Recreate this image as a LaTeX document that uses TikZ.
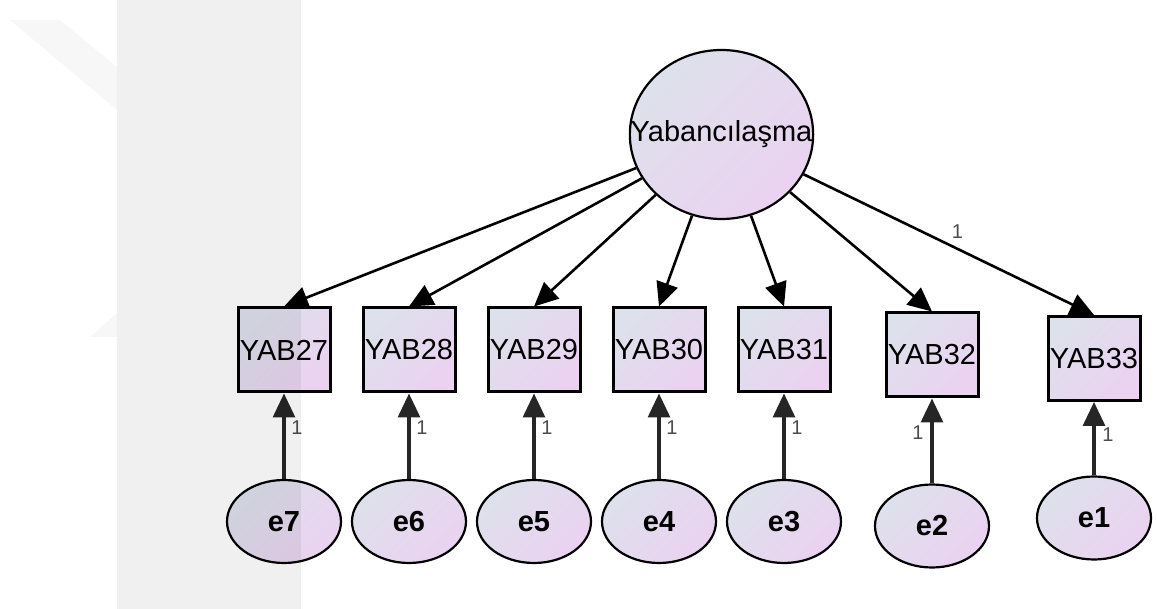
\documentclass[tikz,border=0pt]{standalone}
\usepackage{fontspec}
\setmainfont{Liberation Sans}
\usetikzlibrary{arrows.meta,shapes.geometric}
\definecolor{semblue}{HTML}{DDE1EB}
\definecolor{sempink}{HTML}{EBD2F1}

\begin{document}
\begin{tikzpicture}[
    x=0.5pt, y=-0.5pt,
    shadefill/.style={top color=semblue, bottom color=sempink, shading angle=45},
    latent/.style={ellipse, draw=black, line width=1.1pt, inner xsep=-13pt, inner ysep=0pt, shadefill,
        minimum width=91.5pt, minimum height=84.5pt, font=\fontsize{14.5}{16}\selectfont},
    observed/.style={rectangle, draw=black, line width=1.5pt, inner sep=0pt, shadefill,
        minimum width=46pt, minimum height=42pt, font=\fontsize{14.5}{16}\selectfont},
    errvar/.style={ellipse, draw=black, line width=1.1pt, inner sep=0pt, shadefill,
        minimum width=57pt, minimum height=41.5pt, font=\bfseries\fontsize{14.5}{16}\selectfont},
    loading/.style={-{Triangle[length=12pt,width=11pt]}, line width=1.3pt, draw=black},
    errpath/.style={loading, line width=1.6pt, draw=black!85},
    one/.style={font=\fontsize{10}{11}\selectfont, text=black!70, inner sep=0pt}
]
\useasboundingbox (0,0) rectangle (1158,609);

% latent factor
\node[latent] (yab) at (721.5,134.5) {Yabancılaşma};

% indicators
\node[observed] (yab27) at (284,350) {YAB27};
\node[observed] (yab28) at (409,350) {YAB28};
\node[observed] (yab29) at (534,350) {YAB29};
\node[observed] (yab30) at (659,350) {YAB30};
\node[observed] (yab31) at (784,350) {YAB31};
\node[observed] (yab32) at (932,355) {YAB32};
\node[observed] (yab33) at (1094,358.5) {YAB33};

% error terms
\node[errvar] (e7) at (284,521.5) {e7};
\node[errvar] (e6) at (409,521.5) {e6};
\node[errvar] (e5) at (534,521.5) {e5};
\node[errvar] (e4) at (659,521.5) {e4};
\node[errvar] (e3) at (784,521.5) {e3};
\node[errvar] (e2) at (932,526) {e2};
\node[errvar] (e1) at (1094,518) {e1};

\draw[loading] (yab) -- (yab27.north);
\draw[loading] (yab) -- (yab28.north);
\draw[loading] (yab) -- (yab29.north);
\draw[loading] (yab) -- (yab30.north);
\draw[loading] (yab) -- (yab31.north);
\draw[loading] (yab) -- (yab32.north);
\draw[loading] (yab) -- node[one, pos=0.53, yshift=8.5pt] {1} (yab33.north);

\draw[errpath] (e7.north) -- node[one, pos=0.6, xshift=6.5pt] {1} (yab27.south);
\draw[errpath] (e6.north) -- node[one, pos=0.6, xshift=6.5pt] {1} (yab28.south);
\draw[errpath] (e5.north) -- node[one, pos=0.6, xshift=6.5pt] {1} (yab29.south);
\draw[errpath] (e4.north) -- node[one, pos=0.6, xshift=6.5pt] {1} (yab30.south);
\draw[errpath] (e3.north) -- node[one, pos=0.6, xshift=6.5pt] {1} (yab31.south);
\draw[errpath] (e2.north) -- node[one, pos=0.6, xshift=-7pt] {1} (yab32.south);
\draw[errpath] (e1.north) -- node[one, pos=0.55, xshift=7pt] {1} (yab33.south);

% faint watermark
\fill[black, opacity=0.06] (117,0) rectangle (301,609);
\fill[black, opacity=0.03] (10,20) -- (60,20) -- (117,67) -- (117,110) -- cycle;
\fill[black, opacity=0.03] (90,337) -- (117,313) -- (117,337) -- cycle;
\end{tikzpicture}
\end{document}
